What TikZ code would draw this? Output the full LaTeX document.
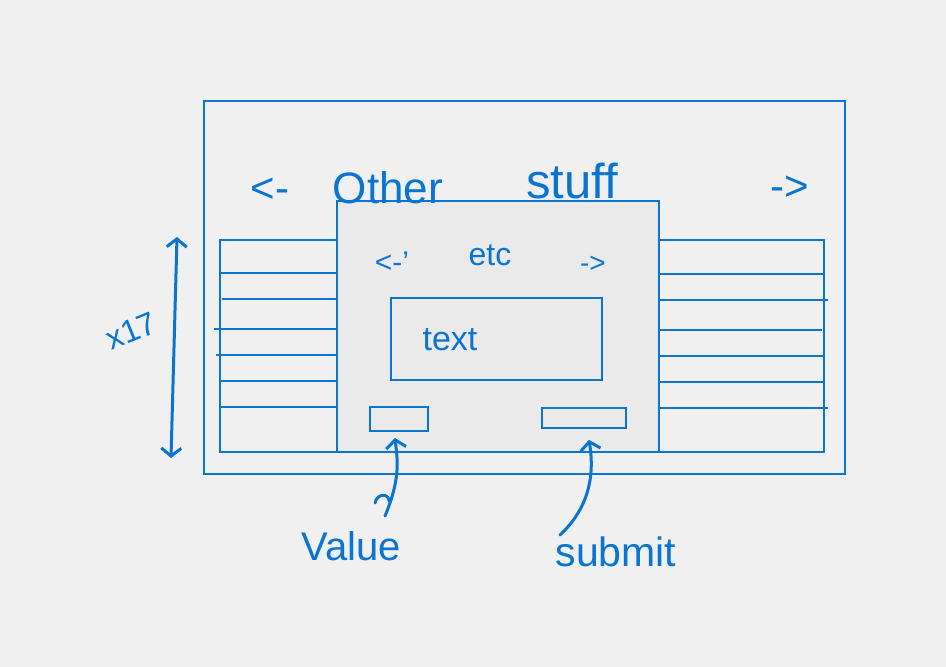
\documentclass[tikz,border=0pt]{standalone}
\usepackage{fontspec}
\setmainfont{Liberation Sans}
\usetikzlibrary{arrows.meta}
\definecolor{ink}{RGB}{10,116,210}
\definecolor{bg}{RGB}{240,240,240}
\definecolor{panel}{RGB}{234,234,234}
\begin{document}
\begin{tikzpicture}[x=1pt,y=-1pt,
  box/.style={draw=ink,line width=2pt,anchor=north west,inner sep=0pt,outer sep=0pt},
  rule/.style={draw=ink,line width=2pt},
  hand/.style={text=ink,inner sep=0pt,anchor=base},
  conn/.style={draw=ink,line width=3pt,line cap=round,-{Straight Barb[length=8pt,width=20pt,line width=3pt]}},
  stroke/.style={draw=ink,line width=3pt,line cap=round}]
\fill[bg] (0,0) rectangle (946,667);
\useasboundingbox (0,0) rectangle (946,667);
% outer frame
\node[box,minimum width=641pt,minimum height=373pt] (outer) at (204,101) {};
% side panels
\node[box,minimum width=117pt,minimum height=212pt] (lpanel) at (220,240) {};
\node[box,minimum width=165pt,minimum height=212pt] (rpanel) at (659,240) {};
\foreach \y/\a in {273/220,299/222,329/214,355/216,381/219,407/220}
  \draw[rule] (\a,\y) -- (337,\y);
\foreach \y/\b in {274/824,300/828,330/822,356/824,382/824,408/828}
  \draw[rule] (659,\y) -- (\b,\y);
% centre panel
\node[box,fill=panel,minimum width=322pt,minimum height=251pt] (center) at (337,201) {};
\node[box,minimum width=211pt,minimum height=82pt] (textbox) at (391,298) {};
\node[box,minimum width=58pt,minimum height=24pt] (valbox) at (370,407) {};
\node[box,minimum width=84pt,minimum height=20pt] (subbox) at (542,408) {};
% top labels
\node[hand,font=\fontsize{42}{42}\selectfont] (larr) at (270,202) {<-};
\node[hand,font=\fontsize{44}{44}\selectfont] (other) at (388,203) {Other};
\node[hand,font=\fontsize{49}{49}\selectfont] (stuff) at (572,198) {stuff};
\node[hand,font=\fontsize{42}{42}\selectfont] (rarr) at (790,200) {->};
\node[hand,font=\fontsize{30}{30}\selectfont] (larr2) at (392,272) {<-'};
\node[hand,font=\fontsize{32}{32}\selectfont] (etc) at (490,265) {etc};
\node[hand,font=\fontsize{28}{28}\selectfont] (rarr2) at (593,272) {->};
\node[hand,font=\fontsize{34}{34}\selectfont] (txt) at (450,350) {text};
% x17 dimension
\coordinate (dtop) at (177,237);
\coordinate (dbot) at (171,458);
\draw[conn,{Straight Barb[length=8pt,width=20pt,line width=3pt]}-{Straight Barb[length=8pt,width=20pt,line width=3pt]}] (dtop) -- (dbot);
\node[hand,anchor=center,rotate=22,font=\fontsize{32}{32}\selectfont] (x17) at (131,331) {x17};
% bottom labels and connectors
\node[hand,font=\fontsize{40}{40}\selectfont] (value) at (351,560) {Value};
\node[hand,font=\fontsize{41}{41}\selectfont] (submit) at (616,566) {submit};
\coordinate (vq) at (385,516);
\draw[stroke] (375,503) .. controls (377,493) and (389,493) .. (389,501);
\draw[conn,shorten >=7pt] (vq) .. controls (400,480) and (398,462) .. (valbox.south -| 394,431);
\coordinate (sq) at (560,535);
\draw[conn,shorten >=12pt] (sq) .. controls (592,505) and (594,470) .. (subbox.south -| 587,428);
\end{tikzpicture}
\end{document}
